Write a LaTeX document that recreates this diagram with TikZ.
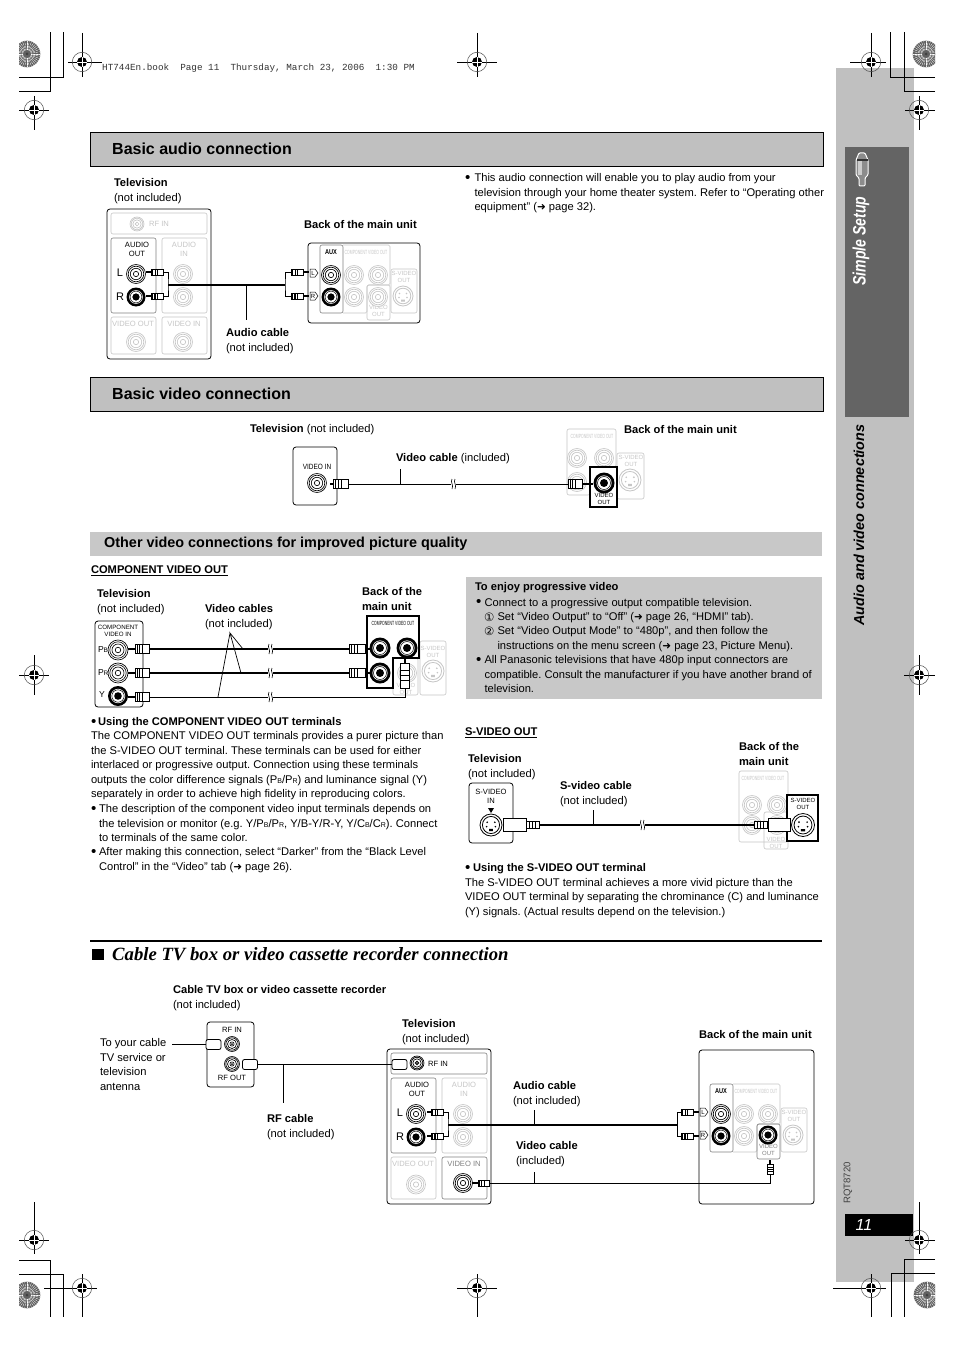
\documentclass[tikz,border=0pt]{standalone}
\usepackage{fontspec}
\setmainfont{Liberation Sans}
\newfontfamily\serifb{Liberation Serif}
\newfontfamily\monof{Liberation Mono}
\newfontfamily\dvf{DejaVu Sans}
\definecolor{fade}{HTML}{C6C6C6}
\definecolor{act}{HTML}{808080}
\definecolor{barg}{HTML}{C0C0C0}
\definecolor{barl}{HTML}{C8C8C8}
\definecolor{darkg}{HTML}{646464}
\frenchspacing
\tikzset{
 lbl/.style={anchor=north west,inner sep=0,outer sep=0,align=left,font=\fontsize{11.15}{14.5}\selectfont},
 tiny/.style={inner sep=0,outer sep=0,align=center,font=\fontsize{7.6}{9}\selectfont},
 micro/.style={inner sep=0,outer sep=0,align=center,font=\fontsize{6}{6.4}\selectfont},
 bar/.style={fill=barg,draw=black,line width=.6},
 shell/.style={draw=black,line width=.8,rounded corners=3pt,fill=white},
 wire/.style={line width=1,black},
 cable/.style={line width=1.9,black},
 leader/.style={line width=.7,black},
 stub/.style={line width=1.1,black},
 plugb/.style={draw=black,fill=white,line width=.7,inner sep=0,outer sep=0,rectangle},
 rfplug/.style={draw=black,fill=white,line width=.8,inner sep=0,outer sep=0,rectangle,rounded corners=2pt,minimum width=15pt,minimum height=10pt},
 crop/.style={line width=.9,black}
}
\newcommand\Tx[4]{\node[lbl] (#1) at (#2,{#3-3.4}) {#4};}
\newcommand\arr{{\dvf\fontsize{10.5}{10}\selectfont ➜}}
\newcommand\cir[1]{{\dvf\fontsize{11.5}{11}\selectfont #1}}
\newcommand\sB{{\fontsize{7}{7}\selectfont B}}
\newcommand\sR{{\fontsize{7}{7}\selectfont R}}
\newcommand\bul{\vphantom{T}\raisebox{-.8pt}{\scalebox{1.35}{\textbullet}}}
\newcommand\cmpv{\scalebox{.58}[1]{\fontsize{6}{6}\selectfont COMPONENT VIDEO OUT}}
% jack: colour, x, y, r
\newcommand\jackC[4]{\draw[#1,fill=white,line width=.65] (#2,#3) circle (#4) (#2,#3) circle ({.82*#4}) (#2,#3) circle ({.6*#4}) (#2,#3) circle ({.28*#4});}
\newcommand\jackD[3]{\fill[black] (#1,#2) circle (#3);\fill[white] (#1,#2) circle ({.72*#3});\draw[black,line width=.5] (#1,#2) circle ({.62*#3});\fill[black] (#1,#2) circle ({.38*#3});}
\newcommand\svid[4]{\draw[#1,fill=white,line width=.8] (#2,#3) circle (#4) (#2,#3) circle ({.78*#4});
 \fill[#1] ({#2-.35*#4},{#3-.25*#4}) circle (.9) ({#2+.35*#4},{#3-.25*#4}) circle (.9) ({#2-.4*#4},{#3+.15*#4}) circle (.9) ({#2+.4*#4},{#3+.15*#4}) circle (.9) ({#2-.18*#4},{#3+.35*#4}) rectangle ({#2+.18*#4},{#3+.55*#4});}
% horizontal plug: name,x1,x2,y,h,stripe width
\newcommand\plugH[6]{\node[plugb,minimum width={(#3-#2)*1pt},minimum height={#5*1pt}] (#1) at ({(#2+#3)/2},#4) {};
 \foreach \f in {.14,.34,.54}{\draw[black,line width=#6pt] ({#2+\f*(#3-#2)},{#4-#5/2}) -- ({#2+\f*(#3-#2)},{#4+#5/2});}}
% vertical plug: name,x,y1,y2,w,stripe width
\newcommand\plugV[6]{\node[plugb,minimum width={#5*1pt},minimum height={(#4-#3)*1pt}] (#1) at (#2,{(#3+#4)/2}) {};
 \foreach \f in {.3,.5,.7}{\draw[black,line width=#6pt] ({#2-#5/2},{#3+\f*(#4-#3)}) -- ({#2+#5/2},{#3+\f*(#4-#3)});}}
% break mark on a cable
\newcommand\brk[2]{\fill[white] ({#1-2.5},{#2-3}) rectangle ({#1+2.5},{#2+3});
 \draw[black,line width=.6] ({#1-1},{#2-5}) .. controls ({#1-3},{#2-2}) and ({#1+1},{#2+1}) .. ({#1-1},{#2+5});
 \draw[black,line width=.6] ({#1+2},{#2-5}) .. controls ({#1},{#2-2}) and ({#1+4},{#2+1}) .. ({#1+2},{#2+5});}
% registration mark: x,y,left,right,up,down
\newcommand\regm[6]{\draw[black,line width=.8] ({#1-#3},#2) -- ({#1+#4},#2) (#1,{#2-#5}) -- (#1,{#2+#6});
 \draw[black!70,line width=.5] (#1,#2) circle (9.7);
 \fill[black] (#1,#2) circle (5);
 \draw[white,line width=.7] ({#1-5},#2) -- ({#1+5},#2) (#1,{#2-5}) -- (#1,{#2+5});}
% sunburst: x,y,clip x1,clip x2
\newcommand\sunb[4]{\begin{scope}\clip (#3,{#2-15}) rectangle (#4,{#2+15});
 \fill[black!62] (#1,#2) circle (13.3);
 \foreach \a in {0,10,...,350}{\draw[white,line width=.35] (#1,#2) ++(\a:4) -- ++(\a:9.3);}
 \foreach \r in {6,9,12}{\draw[black!65,line width=.3] (#1,#2) circle (\r);}
 \fill[black!75] (#1,#2) circle (1.5);\end{scope}}
% TV panel: x,y,extra height of the video row,RF colour,VIDEO IN colour
\newcommand\TVpanel[5]{\begin{scope}[shift={(#1,#2)}]
 \draw[shell] (0,0) rectangle (104,{150+#3});
 \draw[#4,line width=.6,rounded corners=2pt] (4,4) rectangle (100,25);
 \draw[act,line width=.6,rounded corners=2pt] (4,29) rectangle (49,104);
 \draw[fade,line width=.6,rounded corners=2pt] (55,29) rectangle (100,104);
 \draw[fade,line width=.6,rounded corners=2pt] (4,108) rectangle (49,{145+#3});
 \draw[#5,line width=.6,rounded corners=2pt] (55,108) rectangle (100,{145+#3});
 \node[tiny,text=black] at (30,40.5) {AUDIO\\OUT};
 \node[tiny,text=fade] at (77,40.5) {AUDIO\\IN};
 \node[tiny,text=fade] at (26,115) {VIDEO OUT};
 \node[tiny,text=#5] at (77,115) {VIDEO IN};
 \node[inner sep=0,font=\fontsize{11}{11}\selectfont] at (13,64) {L};
 \node[inner sep=0,font=\fontsize{11}{11}\selectfont] at (13,88) {R};
 \jackC{fade}{76}{65}{9.5}\jackC{fade}{76}{88}{9.5}
 \jackC{fade}{29}{{133+#3/2}}{9.5}
 \jackC{black}{29}{65}{9.5}\jackD{29}{88}{9.5}
\end{scope}}
% unit panel: origin at top left of the AUX box; x,y,colour of VIDEO OUT
\newcommand\UnitPanel[3]{\begin{scope}[shift={(#1,#2)}]
 \draw[fade,line width=.6,rounded corners=1.5pt] (23,0) -- (70,0) -- (70,40) -- (47,40) -- (47,68) -- (23,68);
 \draw[fade,line width=.6,rounded corners=2pt] (71,24) rectangle (97,68);
 \draw[#3,line width=.6,rounded corners=2pt] (47,40) rectangle (70,75);
 \draw[act,line width=.6,rounded corners=2pt] (0,0) rectangle (23,68);
 \node[micro] at (11,7) {\scalebox{.8}[1]{\fontsize{7}{7}\selectfont\textbf{AUX}}};
 \node[micro,text=fade] at (46,7) {\cmpv};
 \node[micro,text=fade] at (84,32) {S-VIDEO\\OUT};
 \node[micro,text=#3] at (58.5,66) {VIDEO\\OUT};
 \draw[black,fill=white,line width=.5] (-10,24) -- (-5,24) -- (-2,28) -- (-5,32) -- (-10,32) -- cycle;
 \draw[black,fill=white,line width=.5] (-10,47) -- (-5,47) -- (-2,51) -- (-5,55) -- (-10,55) -- cycle;
 \node[micro] at (-7,28) {L};\node[micro] at (-7,51) {R};
 \jackC{fade}{34}{30}{9.5}\jackC{fade}{58}{30}{9.5}\jackC{fade}{34}{52}{9.5}
 \svid{fade}{83}{51}{10}
 \jackC{black}{11}{30}{9.5}\jackD{11}{52}{9.5}
\end{scope}}
\begin{document}
\begin{tikzpicture}[x=1pt,y=-1pt]
\useasboundingbox (0,0) rectangle (954,1351);
\fill[white] (0,0) rectangle (954,1351);
%% side strip
\fill[barg] (836,68) rectangle (914,1282);
\fill[darkg] (845,147) rectangle (909,417);
\fill[black] (845,1214) rectangle (913,1236);
\node[rotate=90,inner sep=0,text=white,font=\fontsize{18}{18}\selectfont\bfseries\itshape] (simple) at (861,241) {\scalebox{.78}[1]{Simple Setup}};
\node[rotate=90,inner sep=0,font=\fontsize{14.4}{15}\selectfont\bfseries\itshape] (avc) at (859,525) {Audio and video connections};
\node[rotate=90,inner sep=0,text=black!75,font=\fontsize{9.6}{10}\selectfont] (rqt) at (848,1183) {RQT8720};
\node[inner sep=0,text=white,font=\fontsize{16}{16}\selectfont\itshape] (pg) at (864,1225) {11};
% plug icon on the strip
\draw[white,fill=black!45,line width=1,rounded corners=1pt] (856,160) -- (859,153) -- (865,153) -- (868,160) -- (868,175) -- (865,178) -- (865,186) -- (859,186) -- (859,178) -- (856,175) -- cycle;
\fill[black!20] (858,161) rectangle (862,175);
\fill[black!80] (856.5,159) rectangle (867.5,161);
%% printer's marks
\draw[crop] (19,77) -- (63,77) -- (63,32) (19,91) -- (50,91) -- (50,32);
\draw[crop] (935,77) -- (890,77) -- (890,32) (935,91) -- (904,91) -- (904,32);
\draw[crop] (19,1274) -- (63,1274) -- (63,1317) (19,1260) -- (50,1260) -- (50,1317);
\draw[crop] (935,1273) -- (891,1273) -- (891,1317) (935,1259) -- (904,1259) -- (904,1317);
\regm{82}{62}{14}{20}{29}{15}
\regm{477}{62}{20}{20}{29}{15}
\regm{871}{62}{21}{15}{29}{15}
\regm{34}{110}{15}{15}{14}{20}
\regm{919}{110}{14}{16}{14}{20}
\regm{34}{675}{15}{15}{20}{20}
\regm{919}{675}{15}{16}{20}{20}
\regm{34}{1240}{15}{15}{38}{14}
\regm{919}{1240}{14}{16}{38}{14}
\regm{82}{1288}{38}{15}{14}{29}
\regm{477}{1288}{20}{20}{14}{29}
\regm{871}{1288}{38}{15}{14}{29}
\sunb{27}{54}{19}{41}
\sunb{926}{54}{912}{935}
\sunb{27}{1295}{19}{41}
\sunb{927}{1295}{912}{935}
\node[anchor=base west,inner sep=0,text=black!80,font=\monof\fontsize{9.3}{10}\selectfont] (hdr) at (102,71) {HT744En.book\ \ Page 11\ \ Thursday, March 23, 2006\ \ 1:30 PM};
%% section bars
\draw[bar] (90,132) rectangle (823,166);
\draw[bar] (90,377) rectangle (823,411);
\fill[barl] (90,532) rectangle (822,556);
\node[anchor=west,inner sep=0,font=\fontsize{16}{18}\selectfont\bfseries] (s1) at (112,149) {Basic audio connection};
\node[anchor=west,inner sep=0,font=\fontsize{16}{18}\selectfont\bfseries] (s2) at (112,394) {Basic video connection};
\node[anchor=west,inner sep=0,font=\fontsize{14.4}{16}\selectfont\bfseries] (s3) at (104,544) {Other video connections for improved picture quality};
%% basic audio
\Tx{t1}{114}{182}{\textbf{Television}\\(not included)}
\Tx{t2}{304}{224}{\textbf{Back of the main unit}}
\Tx{t3}{226}{332}{\textbf{Audio cable}\\(not included)}
\Tx{t4}{465}{177}{\bul}
\Tx{t5}{474.5}{177}{This audio connection will enable you to play audio from your\\television through your home theater system. Refer to “Operating other\\equipment” (\arr\ page 32).}
\TVpanel{107}{209}{0}{fade}{fade}
\jackC{fade}{137}{224}{7}
\node[tiny,text=fade] (a1) at (159,224) {RF IN};
\jackC{fade}{183}{342}{9.5}
\UnitPanel{320}{245}{fade}
\draw[black,line width=.8,rounded corners=3pt] (308,243) rectangle (420,323);
\jackC{fade}{378}{297}{9.5}
\draw[stub] (146,272) -- (152,272) (146,296) -- (152,296) (303,272) -- (309,272) (303,296) -- (309,296);
\plugH{atL}{151}{163}{272}{6}{.7}
\plugH{atR}{151}{163}{296}{6}{1.6}
\plugH{auL}{291}{303}{272}{6}{.7}
\plugH{auR}{291}{303}{296}{6}{1.6}
\coordinate (aJ) at (168,285);
\coordinate (aK) at (285,285);
\coordinate (aLd) at (246,320);
\draw[wire] (atL.east) -| (aJ) |- (atR.east);
\draw[wire] (auL.west) -| (aK) |- (auR.west);
\draw[cable] (aJ) -- (aK);
\draw[leader] (aLd |- aK) -- (aLd);
%% basic video
\Tx{v1}{250}{428}{\textbf{Television} (not included)}
\Tx{v2}{624}{429}{\textbf{Back of the main unit}}
\Tx{v3}{396}{457}{\textbf{Video cable} (included)}
\draw[shell] (293,447) rectangle (337,505);
\node[tiny] (v4) at (317,467) {\scalebox{.85}[1]{VIDEO IN}};
\jackC{black}{317}{483}{9.5}
\draw[fade,line width=.6,rounded corners=2pt] (567,429) -- (616,429) -- (616,467) -- (590,467) -- (590,495) -- (567,495) -- cycle;
\draw[fade,line width=.6,rounded corners=2pt] (617,453) rectangle (644,499);
\node[micro,text=fade] (v5) at (592,436) {\cmpv};
\node[micro,text=fade] (v6) at (631,461) {S-VIDEO\\OUT};
\jackC{fade}{577}{458}{9.5}\jackC{fade}{604}{458}{9.5}\jackC{fade}{577}{482}{9.5}
\svid{fade}{630}{480}{11}
\draw[black,line width=1.6] (590,467) rectangle (617,507);
\jackD{604}{483}{10.5}
\node[micro] (v7) at (604,499) {VIDEO\\OUT};
\draw[stub] (330,484) -- (334,484) (582,484) -- (593,484);
\plugH{vtP}{333}{348}{484}{9}{.7}
\plugH{vuP}{568}{582}{484}{9}{.7}
\draw[wire] (vtP.east) -- (vuP.west);
\coordinate (vLd) at (400,469);
\draw[leader] (vLd) -- (vLd |- vtP.east);
\brk{453}{484}
%% other video: component
\Tx{c0}{91}{569}{\textbf{\underline{COMPONENT VIDEO OUT}}}
\Tx{c1}{97}{593}{\textbf{Television}\\(not included)}
\Tx{c2}{205}{608}{\textbf{Video cables}\\(not included)}
\Tx{c3}{362}{591}{\textbf{Back of the}\\\textbf{main unit}}
\draw[shell] (95,621) rectangle (143,707);
\node[micro,font=\fontsize{6.2}{7}\selectfont] (c4) at (118,631) {COMPONENT\\VIDEO IN};
\node[tiny,anchor=west,font=\fontsize{8.6}{9}\selectfont] (c5) at (98,650) {P\scalebox{.75}{B}};
\node[tiny,anchor=west,font=\fontsize{8.6}{9}\selectfont] (c6) at (98,673) {P\scalebox{.75}{R}};
\node[tiny,anchor=west,font=\fontsize{8.6}{9}\selectfont] (c7) at (99,695) {Y};
\jackC{black}{118}{650}{10}
\jackC{black}{118}{673}{10}
\jackD{118}{696}{10}
\draw[fade,line width=.6,rounded corners=2pt] (420,641) rectangle (446,695);
\draw[fade,line width=.6,rounded corners=2pt] (393,658) rectangle (418,695);
\node[micro,text=fade] (c8) at (433,652) {S-VIDEO\\OUT};
\node[micro,text=fade] (c9) at (406,689) {VIDEO\\OUT};
\svid{fade}{433}{671}{11}
\jackC{fade}{407}{673}{9.5}
\draw[black,line width=1.6,fill=white] (367,616) -- (419,616) -- (419,658) -- (393,658) -- (393,688) -- (367,688) -- cycle;
\node[micro] (c10) at (393,623) {\cmpv};
\jackD{380}{648}{10.5}\jackD{407}{648}{10.5}\jackD{380}{673}{10.5}
\draw[stub] (128,649) -- (136,649) (128,673) -- (136,673) (128,697) -- (136,697) (365,649) -- (371,649) (365,673) -- (371,673);
\plugH{cp1}{135}{149}{649}{9}{.7}
\plugH{cp2}{135}{149}{673}{9}{.7}
\plugH{cp3}{135}{149}{697}{9}{.7}
\plugH{cu1}{349}{365}{649}{9}{.7}
\plugH{cu2}{349}{365}{673}{9}{.7}
\draw[stub] (405,658) -- (405,664);
\plugV{cu3}{405}{663}{688}{9}{.7}
\draw[cable] (cp1.east) -- (cu1.west);
\draw[cable] (cp2.east) -- (cu2.west);
\draw[wire] (cp3.east) -| (cu3.south);
\coordinate (cAp) at (230,633);
\draw[leader] (243,649) -- (cAp) -- (241,673) (cAp) -- (218,697);
\brk{270}{649}\brk{270}{673}\brk{270}{697}
%% left text
\Tx{l1a}{91}{721}{\bul}
\Tx{l1}{98}{721}{\textbf{Using the COMPONENT VIDEO OUT terminals}}
\Tx{l2}{91}{735}{The COMPONENT VIDEO OUT terminals provides a purer picture than\\the S-VIDEO OUT terminal. These terminals can be used for either\\interlaced or progressive output. Connection using these terminals\\outputs the color difference signals (P\sB/P\sR) and luminance signal (Y)\\separately in order to achieve high fidelity in reproducing colors.}
\Tx{l3}{91}{808}{\bul}
\Tx{l4}{99}{808}{The description of the component video input terminals depends on\\the television or monitor (e.g. Y/P\sB/P\sR, Y/B-Y/R-Y, Y/C\sB/C\sR). Connect\\to terminals of the same color.}
\Tx{l5}{91}{851}{\bul}
\Tx{l6}{99}{851}{After making this connection, select “Darker” from the “Black Level\\Control” in the “Video” tab (\arr\ page 26).}
%% progressive box
\fill[barl] (466,577) rectangle (822,699);
\Tx{p1}{475}{586}{\textbf{To enjoy progressive video}}
\Tx{p2}{476}{601.5}{\bul}
\Tx{p3}{484.5}{601.5}{Connect to a progressive output compatible television.}
\Tx{p4}{484}{616}{\cir{①}}
\Tx{p5}{497.5}{616}{Set “Video Output” to “Off” (\arr\ page 26, “HDMI” tab).}
\Tx{p6}{484}{630}{\cir{②}}
\Tx{p7}{497.5}{630}{Set “Video Output Mode” to “480p”, and then follow the\\instructions on the menu screen (\arr\ page 23, Picture Menu).}
\Tx{p8}{476}{659}{\bul}
\Tx{p9}{484.5}{659}{All Panasonic televisions that have 480p input connectors are\\compatible. Consult the manufacturer if you have another brand of\\television.}
%% s-video
\Tx{d0}{465}{731}{\textbf{\underline{S-VIDEO OUT}}}
\Tx{d1}{468}{758}{\textbf{Television}\\(not included)}
\Tx{d2}{560}{785}{\textbf{S-video cable}\\(not included)}
\Tx{d3}{739}{746}{\textbf{Back of the}\\\textbf{main unit}}
\draw[shell] (469,783) rectangle (513,843);
\node[tiny] (d4) at (491,796.5) {S-VIDEO\\IN};
\fill[black] (488,808) -- (494,808) -- (491,813) -- cycle;
\svid{black}{491}{825}{11}
\draw[fade,line width=.6,rounded corners=2pt] (739,771) rectangle (788,842);
\draw[fade,line width=.6,rounded corners=2pt] (764,812) rectangle (788,849);
\node[micro,text=fade] (d5) at (763,778) {\cmpv};
\node[micro,text=fade] (d6) at (776,843) {VIDEO\\OUT};
\jackC{fade}{752}{805}{9.5}\jackC{fade}{777}{805}{9.5}\jackC{fade}{752}{825}{9.5}\jackC{fade}{777}{825}{9.5}
\draw[black,line width=1.6,fill=white] (787,795) rectangle (818,841);
\node[micro] (d7) at (803,804) {S-VIDEO\\OUT};
\svid{black}{803}{825}{11.5}
\node[plugb,minimum width=23pt,minimum height=13pt] (dtP) at (515,825) {};
\node[plugb,minimum width=22pt,minimum height=13pt] (duP) at (779,825) {};
\node[plugb,minimum width=13pt,minimum height=7pt] (dtN) at (533,825) {};
\node[plugb,minimum width=13pt,minimum height=7pt] (duN) at (761,825) {};
\foreach \q in {529,532,535,757,760,763}{\draw[black,line width=.7] (\q,821.5) -- (\q,828.5);}
\draw[cable] (dtN.east) -- (duN.west);
\coordinate (dLd) at (593,810);
\draw[leader] (dLd) -- (dLd |- dtN.east);
\brk{642}{825}
\Tx{d8a}{465}{867}{\bul}
\Tx{d8}{473}{867}{\textbf{Using the S-VIDEO OUT terminal}}
\Tx{d9}{465}{881.5}{The S-VIDEO OUT terminal achieves a more vivid picture than the\\VIDEO OUT terminal by separating the chrominance (C) and luminance\\(Y) signals. (Actual results depend on the television.)}
%% cable TV heading
\draw[black,line width=2.6] (90,941) -- (822,941);
\fill[black] (92,949) rectangle (104,960);
\node[anchor=west,inner sep=0,font=\serifb\fontsize{18.7}{20}\selectfont\bfseries\itshape] (h1) at (112,954) {Cable TV box or video cassette recorder connection};
\Tx{b1}{173}{989}{\textbf{Cable TV box or video cassette recorder}\\(not included)}
\Tx{b2}{100}{1042}{To your cable\\TV service or\\television\\antenna}
\Tx{b3}{267}{1118}{\textbf{RF cable}\\(not included)}
\Tx{b4}{402}{1023}{\textbf{Television}\\(not included)}
\Tx{b5}{513}{1085}{\textbf{Audio cable}\\(not included)}
\Tx{b6}{516}{1145}{\textbf{Video cable}\\(included)}
\Tx{b7}{699}{1034}{\textbf{Back of the main unit}}
% cable box
\draw[shell] (207,1022) rectangle (254,1087);
\node[tiny] (b8) at (232,1030) {RF IN};
\node[tiny] (b9) at (232,1078) {RF OUT};
\jackC{black}{232}{1044}{7.5}\jackC{black}{232}{1064}{7.5}
\fill (232,1044) circle (1) (232,1064) circle (1);
\node[rfplug] (rf1) at (213.5,1044.5) {};
\node[rfplug] (rf2) at (250,1064.5) {};
\coordinate (rfS) at (172,1044.5);
\draw[wire] (rfS) -- (rf1.west);
% tv
\TVpanel{387}{1049}{5}{act}{act}
\jackC{black}{417}{1063}{7}
\fill (417,1063) circle (1);
\node[tiny] (b10) at (438,1064) {RF IN};
\node[rfplug] (rf3) at (399.5,1064.5) {};
\draw[wire] (rf2.east) -- (rf3.west);
\coordinate (rfL) at (283,1103);
\draw[leader] (rfL |- rf2.east) -- (rfL);
\jackC{black}{463}{1183}{9.5}
% unit
\draw[black,line width=.8,rounded corners=3pt] (699,1050) rectangle (814,1204);
\UnitPanel{710}{1084}{act}
\jackD{768}{1135}{9.5}
\draw[stub] (427,1112) -- (432,1112) (427,1136) -- (432,1136) (472,1183) -- (478,1183) (693,1112) -- (699,1112) (693,1136) -- (699,1136) (770,1160) -- (770,1165);
\plugH{btL}{431}{443}{1112}{6}{.7}
\plugH{btR}{431}{443}{1136}{6}{1.6}
\plugH{buL}{681}{693}{1112}{6}{.7}
\plugH{buR}{681}{693}{1136}{6}{1.6}
\plugH{btV}{478}{489}{1183}{6}{.7}
\plugV{buV}{770}{1164}{1174}{6}{.7}
\coordinate (bJ) at (448,1125);
\coordinate (bK) at (677,1125);
\draw[wire] (btL.east) -| (bJ) |- (btR.east);
\draw[wire] (buL.west) -| (bK) |- (buR.west);
\draw[cable] (bJ) -- (bK);
\draw[wire] (btV.east) -| (buV.south);
\coordinate (bL1) at (534,1110);
\coordinate (bL2) at (534,1172);
\draw[leader] (bL1) -- (bL1 |- bJ);
\draw[leader] (bL2) -- (bL2 |- btV.east);
\end{tikzpicture}
\end{document}
